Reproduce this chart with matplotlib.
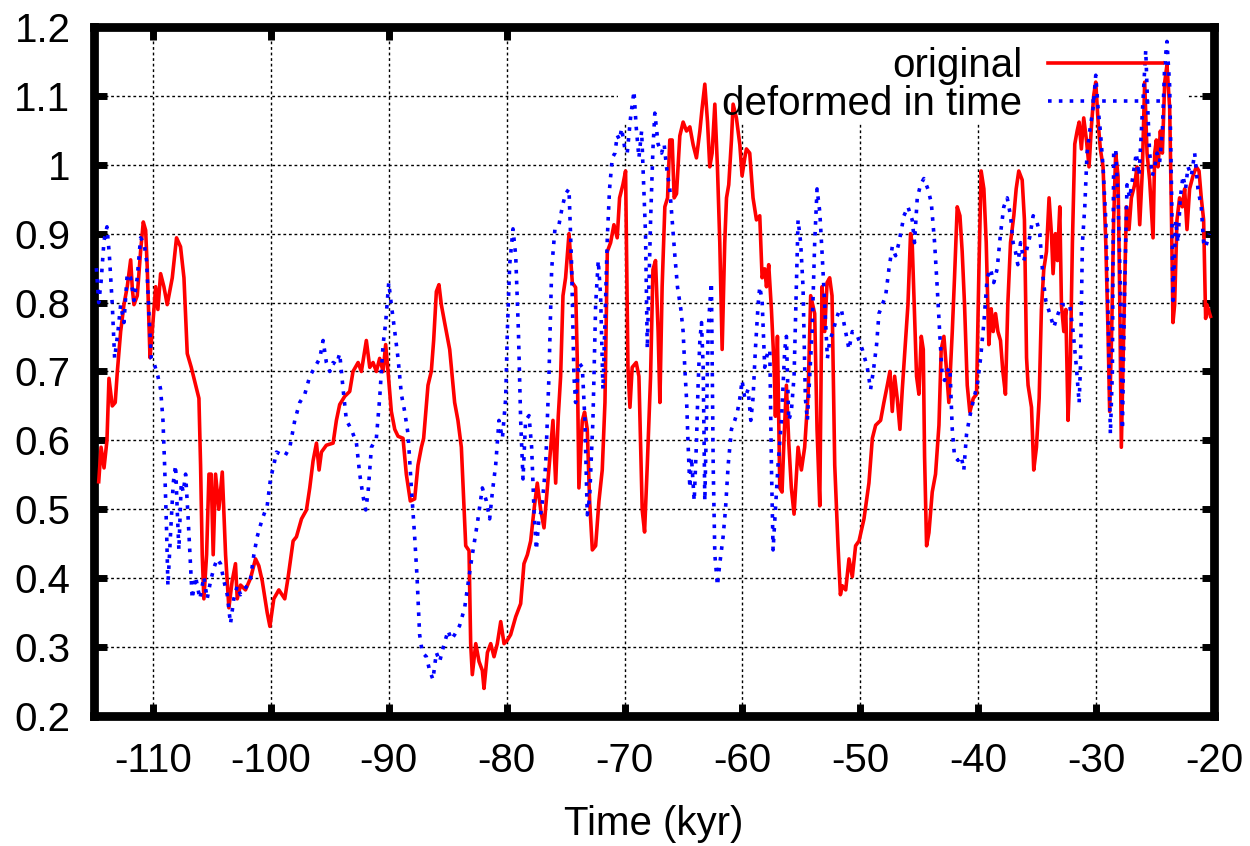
import matplotlib
matplotlib.use('Agg')
import matplotlib.pyplot as plt
from matplotlib.patches import Rectangle
from matplotlib.ticker import FormatStrFormatter

plt.rcParams['font.family'] = ['Liberation Sans', 'DejaVu Sans']
plt.rcParams['axes.unicode_minus'] = False

# original record (time in kyr, value)
orig_time = [
    -114.6, -114.4, -114.15, -113.9, -113.73, -113.45, -113.2, -113.02, -112.74, -112.46,
    -112.18, -111.89, -111.75, -111.61, -111.33, -111.05, -110.82, -110.62, -110.48, -110.25,
    -110.06, -109.77, -109.58, -109.35, -109.07, -108.79, -108.36, -108.0, -107.66, -107.37,
    -107.09, -106.75, -106.38, -106.1, -105.96, -105.82, -105.68, -105.45, -105.25, -105.06,
    -104.89, -104.69, -104.41, -104.12, -103.84, -103.56, -103.28, -103.0, -102.85, -102.57,
    -102.15, -101.72, -101.3, -101.02, -100.73, -100.31, -100.08, -99.75, -99.32, -98.82,
    -98.53, -98.11, -97.83, -97.4, -96.98, -96.7, -96.42, -96.13, -95.91, -95.71,
    -95.29, -94.72, -94.44, -94.16, -93.73, -93.31, -93.03, -92.6, -92.32, -91.9,
    -91.61, -91.33, -91.05, -90.77, -90.48, -90.26, -90.06, -89.78, -89.49, -89.21,
    -88.79, -88.51, -88.17, -87.8, -87.52, -87.23, -87.04, -86.67, -86.39, -86.19,
    -85.96, -85.74, -85.54, -85.26, -84.83, -84.41, -84.13, -83.84, -83.47, -83.19,
    -83.05, -82.91, -82.62, -82.34, -82.06, -81.92, -81.63, -81.35, -81.07, -80.79,
    -80.5, -80.22, -79.94, -79.66, -79.23, -78.81, -78.53, -78.24, -77.96, -77.68,
    -77.4, -77.11, -76.83, -76.55, -76.27, -76.07, -75.84, -75.62, -75.42, -75.22,
    -75.0, -74.71, -74.43, -74.15, -74.01, -73.87, -73.58, -73.39, -73.16, -72.96,
    -72.73, -72.45, -72.17, -71.89, -71.66, -71.46, -71.18, -70.9, -70.62, -70.42,
    -70.14, -69.91, -69.71, -69.54, -69.35, -69.01, -68.78, -68.5, -68.3, -68.07,
    -67.79, -67.59, -67.37, -67.15, -67.0, -66.81, -66.58, -66.35, -66.16, -65.96,
    -65.79, -65.59, -65.31, -65.03, -64.74, -64.46, -64.18, -63.9, -63.61, -63.42,
    -63.19, -62.96, -62.77, -62.57, -62.34, -62.12, -61.92, -61.72, -61.5, -61.35,
    -61.16, -60.93, -60.79, -60.51, -60.22, -60.03, -59.8, -59.66, -59.38, -59.1,
    -58.81, -58.53, -58.33, -58.11, -57.96, -57.77, -57.54, -57.31, -57.2, -57.03,
    -56.83, -56.64, -56.47, -56.27, -56.07, -55.85, -55.62, -55.28, -55.0, -54.72,
    -54.43, -54.21, -53.87, -53.67, -53.44, -53.25, -53.02, -52.82, -52.6, -52.4,
    -52.17, -51.89, -51.69, -51.53, -51.24, -50.96, -50.68, -50.4, -50.11, -49.69,
    -49.27, -48.98, -48.7, -48.28, -48.0, -47.71, -47.49, -47.29, -47.09, -46.87,
    -46.64, -46.44, -46.16, -45.96, -45.74, -45.6, -45.45, -45.23, -45.03, -44.83,
    -44.66, -44.55, -44.38, -44.18, -43.9, -43.62, -43.33, -43.14, -42.91, -42.68,
    -42.49, -42.2, -42.01, -41.78, -41.55, -41.36, -41.16, -40.93, -40.71, -40.42,
    -40.14, -39.94, -39.75, -39.52, -39.32, -39.1, -38.9, -38.73, -38.53, -38.33,
    -38.11, -37.91, -37.69, -37.49, -37.26, -36.98, -36.78, -36.56, -36.27, -36.08,
    -35.9, -35.77, -35.48, -35.29, -35.06, -34.83, -34.64, -34.44, -34.21, -33.99,
    -33.79, -33.65, -33.45, -33.28, -33.08, -32.94, -32.74, -32.57, -32.38, -32.18,
    -32.01, -31.81, -31.61, -31.44, -31.25, -31.05, -30.82, -30.6, -30.4, -30.2,
    -30.03, -29.83, -29.64, -29.41, -29.18, -28.99, -28.85, -28.68, -28.51, -28.34,
    -28.14, -28.0, -27.86, -27.66, -27.43, -27.21, -27.01, -26.73, -26.53, -26.3,
    -26.08, -25.88, -25.68, -25.46, -25.17, -25.03, -24.89, -24.75, -24.55, -24.38,
    -24.18, -23.99, -23.76, -23.62, -23.48, -23.34, -23.14, -22.92, -22.69, -22.49,
    -22.29, -22.07, -21.78, -21.5, -21.27, -21.08, -20.88, -20.71, -20.6, -20.3,
]
orig_value = [
    0.54, 0.59, 0.56, 0.60, 0.69, 0.65, 0.655, 0.70, 0.758, 0.797,
    0.823, 0.862, 0.82, 0.797, 0.81, 0.874, 0.917, 0.905, 0.849, 0.72,
    0.758, 0.823, 0.79, 0.842, 0.823, 0.797, 0.836, 0.894, 0.881, 0.836,
    0.726, 0.706, 0.68, 0.661, 0.564, 0.434, 0.37, 0.434, 0.551, 0.551,
    0.434, 0.551, 0.5, 0.554, 0.434, 0.357, 0.396, 0.421, 0.37, 0.39,
    0.383, 0.40, 0.428, 0.418, 0.396, 0.35, 0.33, 0.37, 0.383, 0.37,
    0.402, 0.454, 0.46, 0.486, 0.499, 0.531, 0.57, 0.596, 0.557, 0.583,
    0.593, 0.596, 0.629, 0.652, 0.664, 0.671, 0.70, 0.713, 0.70, 0.745,
    0.706, 0.713, 0.70, 0.719, 0.70, 0.739, 0.70, 0.642, 0.616, 0.606,
    0.603, 0.551, 0.512, 0.515, 0.564, 0.59, 0.603, 0.68, 0.70, 0.745,
    0.816, 0.826, 0.797, 0.771, 0.732, 0.655, 0.629, 0.59, 0.447, 0.44,
    0.305, 0.26, 0.305, 0.279, 0.266, 0.24, 0.292, 0.305, 0.286, 0.305,
    0.337, 0.305, 0.31, 0.318, 0.344, 0.363, 0.421, 0.434, 0.454, 0.499,
    0.538, 0.499, 0.473, 0.531, 0.59, 0.629, 0.538, 0.635, 0.693, 0.81,
    0.836, 0.90, 0.829, 0.822, 0.719, 0.531, 0.629, 0.641, 0.616, 0.512,
    0.441, 0.447, 0.512, 0.557, 0.655, 0.874, 0.887, 0.913, 0.894, 0.952,
    0.971, 0.991, 0.706, 0.648, 0.706, 0.713, 0.693, 0.499, 0.467, 0.564,
    0.693, 0.848, 0.861, 0.758, 0.655, 0.823, 0.939, 0.952, 1.036, 1.036,
    0.952, 0.958, 1.042, 1.062, 1.049, 1.055, 1.029, 1.01, 1.049, 1.082,
    1.117, 1.062, 0.997, 1.017, 1.088, 0.997, 0.887, 0.732, 0.887, 0.952,
    0.971, 1.036, 1.088, 1.068, 1.029, 0.984, 1.01, 1.023, 1.017, 0.952,
    0.92, 0.926, 0.836, 0.849, 0.823, 0.855, 0.79, 0.706, 0.635, 0.751,
    0.531, 0.525, 0.603, 0.68, 0.597, 0.531, 0.493, 0.59, 0.557, 0.59,
    0.667, 0.81, 0.784, 0.616, 0.505, 0.823, 0.758, 0.829, 0.836, 0.81,
    0.564, 0.447, 0.376, 0.389, 0.383, 0.428, 0.402, 0.447, 0.454, 0.486,
    0.538, 0.603, 0.622, 0.629, 0.655, 0.68, 0.70, 0.642, 0.693, 0.661,
    0.616, 0.674, 0.745, 0.797, 0.90, 0.887, 0.81, 0.693, 0.667, 0.751,
    0.732, 0.577, 0.447, 0.466, 0.525, 0.551, 0.622, 0.732, 0.751, 0.70,
    0.655, 0.758, 0.836, 0.939, 0.926, 0.874, 0.797, 0.68, 0.641, 0.661,
    0.667, 0.848, 0.991, 0.965, 0.887, 0.739, 0.791, 0.758, 0.784, 0.758,
    0.745, 0.70, 0.667, 0.797, 0.887, 0.926, 0.965, 0.991, 0.978, 0.92,
    0.72, 0.68, 0.648, 0.557, 0.59, 0.661, 0.79, 0.848, 0.874, 0.952,
    0.90, 0.842, 0.90, 0.861, 0.939, 0.797, 0.758, 0.79, 0.629, 0.719,
    0.887, 1.03, 1.049, 1.062, 1.023, 1.068, 1.036, 0.997, 1.055, 1.101,
    1.12, 1.062, 1.023, 0.997, 0.887, 0.758, 0.642, 0.758, 0.92, 1.017,
    0.984, 0.81, 0.59, 0.758, 0.939, 0.906, 0.952, 0.971, 0.997, 0.913,
    0.991, 1.12, 1.017, 0.978, 0.894, 1.017, 1.036, 0.997, 1.049, 1.017,
    1.12, 1.145, 1.082, 0.939, 0.771, 0.797, 0.92, 0.952, 0.939, 0.965,
    0.906, 0.965, 0.984, 0.997, 0.991, 0.952, 0.92, 0.777, 0.797, 0.78,
]

# record deformed in time
deformed_time = [
    -114.8, -114.6, -114.4, -114.15, -113.9, -113.7, -113.45, -113.25, -112.97, -112.74,
    -112.46, -112.18, -111.89, -111.61, -111.33, -111.05, -110.76, -110.54, -110.34, -110.14,
    -109.92, -109.58, -109.35, -109.15, -109.01, -108.84, -108.73, -108.5, -108.28, -108.08,
    -107.94, -107.8, -107.6, -107.43, -107.23, -107.03, -106.86, -106.67, -106.38, -106.02,
    -105.68, -105.4, -105.11, -104.83, -104.55, -104.27, -103.98, -103.7, -103.42, -103.14,
    -102.85, -102.57, -102.29, -102.01, -101.72, -101.44, -101.16, -100.73, -100.31, -100.03,
    -99.75, -99.52, -98.82, -98.39, -97.97, -97.55, -97.12, -96.7, -96.27, -95.85,
    -95.57, -95.29, -95.0, -94.72, -94.44, -94.16, -93.87, -93.59, -93.17, -92.74,
    -92.46, -92.18, -91.95, -91.75, -91.47, -91.05, -90.77, -90.48, -90.26, -90.0,
    -89.78, -89.49, -89.21, -88.93, -88.65, -88.36, -88.08, -87.8, -87.6, -87.38,
    -87.15, -86.81, -86.53, -86.25, -85.96, -85.68, -85.4, -84.97, -84.69, -84.41,
    -83.99, -83.56, -83.19, -82.91, -82.48, -82.06, -81.72, -81.44, -81.21, -80.93,
    -80.65, -80.36, -80.08, -79.94, -79.74, -79.46, -79.23, -79.0, -78.81, -78.61,
    -78.39, -78.1, -77.88, -77.68, -77.48, -77.26, -77.03, -76.69, -76.41, -76.18,
    -75.9, -75.56, -75.28, -75.0, -74.71, -74.49, -74.29, -74.15, -73.87, -73.58,
    -73.36, -73.16, -72.96, -72.68, -72.45, -72.23, -72.03, -71.83, -71.66, -71.46,
    -71.27, -71.04, -70.81, -70.62, -70.42, -70.25, -69.97, -69.77, -69.49, -69.2,
    -69.01, -68.78, -68.55, -68.22, -68.07, -67.79, -67.59, -67.43, -67.15, -66.86,
    -66.64, -66.44, -66.16, -65.96, -65.73, -65.51, -65.22, -65.03, -64.89, -64.74,
    -64.6, -64.46, -64.32, -64.09, -63.9, -63.76, -63.61, -63.47, -63.33, -63.19,
    -63.05, -62.91, -62.77, -62.63, -62.48, -62.34, -62.12, -61.92, -61.64, -61.44,
    -61.21, -60.93, -60.65, -60.42, -60.22, -60.03, -59.8, -59.52, -59.29, -59.1,
    -58.9, -58.67, -58.53, -58.33, -58.11, -57.88, -57.68, -57.54, -57.4, -57.2,
    -56.98, -56.69, -56.41, -56.27, -56.07, -55.85, -55.62, -55.42, -55.28, -55.06,
    -54.86, -54.66, -54.49, -54.29, -54.09, -53.87, -53.67, -53.44, -53.25, -53.02,
    -52.79, -52.6, -52.31, -52.03, -51.75, -51.61, -51.33, -50.96, -50.68, -50.26,
    -49.83, -49.41, -49.13, -48.9, -48.62, -48.42, -48.14, -47.85, -47.57, -47.29,
    -47.01, -46.72, -46.3, -45.96, -45.6, -45.4, -45.17, -44.89, -44.61, -44.27,
    -43.98, -43.7, -43.48, -43.25, -43.05, -42.85, -42.63, -42.4, -42.2, -42.01,
    -41.72, -41.44, -41.22, -40.99, -40.71, -40.37, -40.09, -39.8, -39.52, -39.24,
    -38.96, -38.68, -38.39, -38.11, -37.83, -37.54, -37.26, -37.04, -36.84, -36.64,
    -36.41, -36.13, -35.91, -35.63, -35.34, -35.06, -34.78, -34.5, -34.27, -33.93,
    -33.59, -33.22, -32.94, -32.57, -32.24, -31.95, -31.67, -31.44, -31.33, -31.16,
    -30.96, -30.77, -30.54, -30.26, -30.03, -29.83, -29.64, -29.41, -29.18, -28.99,
    -28.79, -28.62, -28.51, -28.34, -28.14, -27.94, -27.77, -27.57, -27.38, -27.15,
    -26.87, -26.59, -26.36, -26.16, -25.96, -25.79, -25.62, -25.46, -25.23, -25.03,
    -24.83, -24.61, -24.38, -24.18, -23.99, -23.76, -23.59, -23.48, -23.25, -23.06,
    -22.86, -22.63, -22.41, -22.21, -21.92, -21.64, -21.36, -21.08, -20.88, -20.71,
    -20.4,
]
deformed_value = [
    0.85, 0.80, 0.83, 0.89, 0.91, 0.87, 0.797, 0.719, 0.758, 0.797,
    0.771, 0.842, 0.836, 0.803, 0.836, 0.894, 0.887, 0.861, 0.784, 0.719,
    0.713, 0.693, 0.674, 0.629, 0.564, 0.467, 0.389, 0.467, 0.538, 0.564,
    0.499, 0.441, 0.538, 0.525, 0.551, 0.492, 0.434, 0.37, 0.402, 0.37,
    0.402, 0.37, 0.396, 0.415, 0.428, 0.421, 0.396, 0.376, 0.334, 0.37,
    0.389, 0.376, 0.383, 0.389, 0.40, 0.434, 0.46, 0.486, 0.505, 0.544,
    0.564, 0.583, 0.577, 0.59, 0.629, 0.655, 0.667, 0.693, 0.706, 0.719,
    0.745, 0.713, 0.70, 0.713, 0.71, 0.726, 0.674, 0.629, 0.616, 0.596,
    0.551, 0.519, 0.499, 0.525, 0.59, 0.603, 0.661, 0.739, 0.771, 0.829,
    0.797, 0.758, 0.719, 0.667, 0.642, 0.609, 0.531, 0.46, 0.402, 0.318,
    0.292, 0.286, 0.266, 0.253, 0.292, 0.279, 0.298, 0.324, 0.311, 0.318,
    0.331, 0.357, 0.402, 0.434, 0.48, 0.531, 0.512, 0.486, 0.525, 0.564,
    0.629, 0.603, 0.661, 0.758, 0.855, 0.907, 0.868, 0.758, 0.629, 0.544,
    0.629, 0.636, 0.59, 0.499, 0.441, 0.486, 0.499, 0.564, 0.693, 0.849,
    0.907, 0.913, 0.939, 0.958, 0.965, 0.855, 0.693, 0.655, 0.713, 0.706,
    0.629, 0.492, 0.518, 0.629, 0.797, 0.861, 0.81, 0.674, 0.771, 0.894,
    0.965, 1.01, 1.017, 1.043, 1.036, 1.053, 1.023, 1.017, 1.068, 1.107,
    1.055, 1.01, 1.049, 0.90, 0.733, 0.919, 1.023, 1.075, 1.03, 1.017,
    1.03, 0.997, 0.965, 0.92, 0.868, 0.823, 0.79, 0.758, 0.706, 0.66,
    0.591, 0.531, 0.575, 0.512, 0.596, 0.68, 0.745, 0.771, 0.706, 0.512,
    0.629, 0.758, 0.797, 0.829, 0.564, 0.434, 0.389, 0.421, 0.46, 0.499,
    0.564, 0.616, 0.629, 0.642, 0.661, 0.687, 0.661, 0.674, 0.629, 0.661,
    0.732, 0.797, 0.823, 0.803, 0.706, 0.726, 0.732, 0.564, 0.441, 0.499,
    0.564, 0.629, 0.732, 0.751, 0.629, 0.642, 0.693, 0.823, 0.92, 0.887,
    0.823, 0.661, 0.629, 0.693, 0.758, 0.887, 0.965, 0.932, 0.874, 0.797,
    0.719, 0.745, 0.758, 0.777, 0.79, 0.79, 0.765, 0.732, 0.758, 0.752,
    0.732, 0.706, 0.674, 0.70, 0.739, 0.784, 0.797, 0.81, 0.849, 0.881,
    0.868, 0.887, 0.926, 0.939, 0.92, 0.887, 0.952, 0.971, 0.98, 0.965,
    0.945, 0.887, 0.823, 0.751, 0.693, 0.687, 0.70, 0.706, 0.616, 0.577,
    0.571, 0.577, 0.557, 0.609, 0.635, 0.661, 0.68, 0.719, 0.771, 0.836,
    0.849, 0.829, 0.849, 0.90, 0.939, 0.952, 0.926, 0.887, 0.874, 0.855,
    0.887, 0.861, 0.875, 0.895, 0.926, 0.92, 0.90, 0.836, 0.803, 0.784,
    0.764, 0.784, 0.797, 0.797, 0.797, 0.758, 0.706, 0.654, 0.706, 0.887,
    0.939, 1.017, 1.049, 1.082, 1.13, 1.082, 1.049, 0.997, 0.92, 0.79,
    0.609, 0.70, 1.017, 1.023, 0.952, 0.823, 0.616, 0.823, 0.971, 0.952,
    0.984, 1.017, 0.984, 1.049, 1.114, 1.166, 1.082, 1.017, 0.984, 0.997,
    1.017, 1.004, 1.049, 1.146, 1.179, 1.114, 0.952, 0.803, 0.919, 0.887,
    0.952, 0.984, 0.965, 0.997, 0.984, 1.017, 0.965, 0.939, 0.887, 0.88,
    0.90,
]

x_ticks = [-110, -100, -90, -80, -70, -60, -50, -40, -30, -20]
y_ticks = [0.2, 0.3, 0.4, 0.5, 0.6, 0.7, 0.8, 0.9, 1.0, 1.1, 1.2]

fig = plt.figure(figsize=(12.5, 8.46), dpi=100)
ax = fig.add_axes([0.0752, 0.1537, 0.896, 0.8144])
ax.set_axisbelow(True)

ax.plot(orig_time, orig_value, color='red', lw=2.6, label='original', zorder=3)
ax.plot(deformed_time, deformed_value, color='blue', lw=2.6,
        linestyle=(0, (1, 2)), label='deformed in time', zorder=4)

# key area hides the grid, like gnuplot does
ax.add_patch(Rectangle((0.468, 0.859), 0.508, 0.141, transform=ax.transAxes,
                       facecolor='white', edgecolor='none', zorder=1))

ax.set_xlim(-115, -20)
ax.set_ylim(0.2, 1.2)
ax.set_xticks(x_ticks)
ax.set_yticks(y_ticks)
ax.yaxis.set_major_formatter(FormatStrFormatter('%g'))
ax.grid(True, color='black', linestyle=(0, (2, 2)), linewidth=1.0)

for s in ax.spines.values():
    s.set_linewidth(6.3)
ax.tick_params(direction='in', length=9, width=5, top=True, right=True,
               labelsize=29)
ax.tick_params(axis='y', pad=17)
ax.tick_params(axis='x', pad=19)

ax.set_xlabel('Time (kyr)', fontsize=29, labelpad=18)

ax.legend(loc='upper right', bbox_to_anchor=(0.954, 0.971), frameon=False,
          markerfirst=False, handlelength=2.83, handletextpad=0.65,
          labelspacing=0.0, borderpad=0, borderaxespad=0, fontsize=29)

fig.savefig('out.png', dpi=100)
